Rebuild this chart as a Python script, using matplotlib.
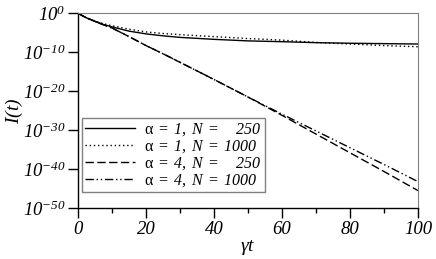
import numpy as np
import matplotlib
matplotlib.use('Agg')
import matplotlib.pyplot as plt

matplotlib.rcParams.update({'font.family': 'Liberation Serif',
                            'mathtext.fontset': 'custom',
                            'mathtext.rm': 'Liberation Serif:italic',
                            'mathtext.it': 'Liberation Serif:italic',
                            'mathtext.sf': 'Liberation Serif',
                            'font.size': 13})

# gamma*t samples and -log10 I(t)
t = [0, 1, 2.5, 5, 7.5, 10, 15, 20, 25, 30, 40, 50, 60, 70, 80, 90, 100]
dec_a1_n250 = [0, 0.5, 1.2, 2.1, 2.9, 3.5, 4.6, 5.3, 5.8, 6.2, 6.7, 7.1, 7.3, 7.55, 7.7, 7.8, 7.9]
dec_a1_n1000 = [0, 0.5, 1.2, 2.0, 2.7, 3.2, 4.1, 4.8, 5.2, 5.5, 6.0, 6.5, 6.9, 7.5, 7.9, 8.3, 8.6]
dec_a4_n250 = [0, 0.5, 1.2, 2.1, 3.0, 3.8, 6.0, 8.3, 10.4, 12.6, 17.0, 21.5, 26.2, 31.0, 35.8, 40.6, 45.5]
dec_a4_n1000 = [0, 0.5, 1.2, 2.1, 3.0, 3.8, 6.0, 8.3, 10.4, 12.6, 17.0, 21.5, 25.9, 30.2, 34.5, 38.8, 43.2]

labels = [r'$\mathsf{\alpha}\ \mathsf{=}\ 1,\ N\ \mathsf{=}\ \ \ \ 250$',
          r'$\mathsf{\alpha}\ \mathsf{=}\ 1,\ N\ \mathsf{=}\ 1000$',
          r'$\mathsf{\alpha}\ \mathsf{=}\ 4,\ N\ \mathsf{=}\ \ \ \ 250$',
          r'$\mathsf{\alpha}\ \mathsf{=}\ 4,\ N\ \mathsf{=}\ 1000$']
styles = ['-', (0, (1, 2)), (0, (6, 2.5)), (0, (6, 2, 1, 2, 1, 2))]
series = [dec_a1_n250, dec_a1_n1000, dec_a4_n250, dec_a4_n1000]

fig = plt.figure(figsize=(4.36, 2.59), dpi=100)
ax = fig.add_axes([0.179, 0.196, 0.780, 0.753])

for d, ls, lab in zip(series, styles, labels):
    ax.semilogy(t, 10.0 ** (-np.array(d)), color='black', linestyle=ls, linewidth=1.0, label=lab)

ax.set_xlim(0, 100)
ax.set_ylim(1e-50, 1)
yt = [1e0, 1e-10, 1e-20, 1e-30, 1e-40, 1e-50]
ax.set_yticks(yt)
ax.set_yticklabels([r'$10^{0}$', r'$10^{-10}$', r'$10^{-20}$',
                    r'$10^{-30}$', r'$10^{-40}$', r'$10^{-50}$'])
ax.yaxis.set_minor_locator(matplotlib.ticker.NullLocator())
ax.set_xticks([0, 20, 40, 60, 80, 100])
ax.set_xticklabels(['0', '20', '40', '60', '80', '100'], fontstyle='italic')
ax.set_xticks([10, 30, 50, 70, 90], minor=True)
ax.tick_params(axis='both', which='major', direction='out', length=7, width=1, labelsize=13.5, pad=2)
ax.tick_params(axis='x', which='minor', direction='out', length=3.5, width=1)
ax.tick_params(top=False, right=False)

for s in ['top', 'right']:
    ax.spines[s].set_color('#808080')
for s in ['left', 'bottom']:
    ax.spines[s].set_linewidth(1.0)

ax.set_xlabel(r'$\gamma t$', fontsize=14, labelpad=0)
ax.set_ylabel(r'$I(t)$', fontsize=14)
ax.yaxis.set_label_coords(-0.155, 0.5)

leg = ax.legend(loc='lower left', bbox_to_anchor=(0.012, 0.084), borderaxespad=0,
                fontsize=11.5, handlelength=3.1, fancybox=False, framealpha=1,
                edgecolor='#808080', labelspacing=0.02, borderpad=0.2, handletextpad=0.6)
leg.get_frame().set_linewidth(1.0)

plt.savefig('out.png', dpi=100)
